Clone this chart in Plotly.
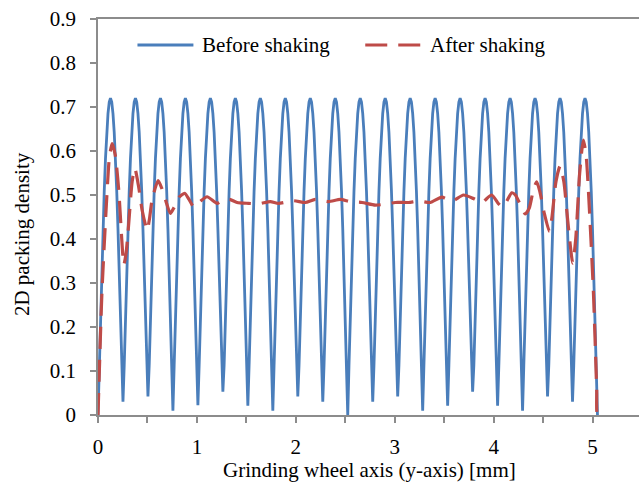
import plotly.graph_objects as go

# ---- Before shaking: packing density sampled every 0.012625 mm (20 samples per grain layer)
blue_step = 0.012625
blue_y = [
    0.000, 0.113, 0.222, 0.327, 0.423, 0.509, 0.583, 0.642, 0.685, 0.711, 0.720, 0.711, 0.685, 0.642, 0.583, 0.509, 0.423, 0.327, 0.222, 0.113,
    0.030, 0.113, 0.222, 0.327, 0.423, 0.509, 0.583, 0.642, 0.685, 0.711, 0.720, 0.711, 0.685, 0.642, 0.583, 0.509, 0.423, 0.327, 0.222, 0.113,
    0.042, 0.113, 0.222, 0.327, 0.423, 0.509, 0.583, 0.642, 0.685, 0.711, 0.720, 0.711, 0.685, 0.642, 0.583, 0.509, 0.423, 0.327, 0.222, 0.113,
    0.010, 0.113, 0.222, 0.327, 0.423, 0.509, 0.583, 0.642, 0.685, 0.711, 0.720, 0.711, 0.685, 0.642, 0.583, 0.509, 0.423, 0.327, 0.222, 0.113,
    0.022, 0.113, 0.222, 0.327, 0.423, 0.509, 0.583, 0.642, 0.685, 0.711, 0.720, 0.711, 0.685, 0.642, 0.583, 0.509, 0.423, 0.327, 0.222, 0.113,
    0.053, 0.113, 0.222, 0.327, 0.423, 0.509, 0.583, 0.642, 0.685, 0.711, 0.720, 0.711, 0.685, 0.642, 0.583, 0.509, 0.423, 0.327, 0.222, 0.113,
    0.021, 0.113, 0.222, 0.327, 0.423, 0.509, 0.583, 0.642, 0.685, 0.711, 0.720, 0.711, 0.685, 0.642, 0.583, 0.509, 0.423, 0.327, 0.222, 0.113,
    0.010, 0.113, 0.222, 0.327, 0.423, 0.509, 0.583, 0.642, 0.685, 0.711, 0.720, 0.711, 0.685, 0.642, 0.583, 0.509, 0.423, 0.327, 0.222, 0.113,
    0.042, 0.113, 0.222, 0.327, 0.423, 0.509, 0.583, 0.642, 0.685, 0.711, 0.720, 0.711, 0.685, 0.642, 0.583, 0.509, 0.423, 0.327, 0.222, 0.113,
    0.030, 0.113, 0.222, 0.327, 0.423, 0.509, 0.583, 0.642, 0.685, 0.711, 0.720, 0.711, 0.685, 0.642, 0.583, 0.509, 0.423, 0.327, 0.222, 0.113,
    0.000, 0.113, 0.222, 0.327, 0.423, 0.509, 0.583, 0.642, 0.685, 0.711, 0.720, 0.711, 0.685, 0.642, 0.583, 0.509, 0.423, 0.327, 0.222, 0.113,
    0.030, 0.113, 0.222, 0.327, 0.423, 0.509, 0.583, 0.642, 0.685, 0.711, 0.720, 0.711, 0.685, 0.642, 0.583, 0.509, 0.423, 0.327, 0.222, 0.113,
    0.042, 0.113, 0.222, 0.327, 0.423, 0.509, 0.583, 0.642, 0.685, 0.711, 0.720, 0.711, 0.685, 0.642, 0.583, 0.509, 0.423, 0.327, 0.222, 0.113,
    0.010, 0.113, 0.222, 0.327, 0.423, 0.509, 0.583, 0.642, 0.685, 0.711, 0.720, 0.711, 0.685, 0.642, 0.583, 0.509, 0.423, 0.327, 0.222, 0.113,
    0.021, 0.113, 0.222, 0.327, 0.423, 0.509, 0.583, 0.642, 0.685, 0.711, 0.720, 0.711, 0.685, 0.642, 0.583, 0.509, 0.423, 0.327, 0.222, 0.113,
    0.053, 0.113, 0.222, 0.327, 0.423, 0.509, 0.583, 0.642, 0.685, 0.711, 0.720, 0.711, 0.685, 0.642, 0.583, 0.509, 0.423, 0.327, 0.222, 0.113,
    0.021, 0.113, 0.222, 0.327, 0.423, 0.509, 0.583, 0.642, 0.685, 0.711, 0.720, 0.711, 0.685, 0.642, 0.583, 0.509, 0.423, 0.327, 0.222, 0.113,
    0.010, 0.113, 0.222, 0.327, 0.423, 0.509, 0.583, 0.642, 0.685, 0.711, 0.720, 0.711, 0.685, 0.642, 0.583, 0.509, 0.423, 0.327, 0.222, 0.113,
    0.042, 0.113, 0.222, 0.327, 0.423, 0.509, 0.583, 0.642, 0.685, 0.711, 0.720, 0.711, 0.685, 0.642, 0.583, 0.509, 0.423, 0.327, 0.222, 0.113,
    0.030, 0.113, 0.222, 0.327, 0.423, 0.509, 0.583, 0.642, 0.685, 0.711, 0.720, 0.711, 0.685, 0.642, 0.583, 0.509, 0.423, 0.327, 0.222, 0.113,
    0.000,
]
blue_x = [round(i * blue_step, 6) for i in range(len(blue_y))]

# ---- After shaking: packing density profile
red_x = [
    0.000, 0.040, 0.090, 0.115, 0.143, 0.175, 0.210, 0.240, 0.261, 0.285,
    0.311, 0.345, 0.372, 0.410, 0.446, 0.497, 0.520, 0.547, 0.608, 0.645,
    0.682, 0.732, 0.770, 0.820, 0.877, 0.920, 0.968, 1.030, 1.103, 1.204,
    1.250, 1.330, 1.406, 1.520, 1.624, 1.742, 1.826, 1.978, 2.096, 2.197,
    2.331, 2.449, 2.550, 2.669, 2.803, 2.900, 3.005, 3.140, 3.240, 3.359,
    3.477, 3.578, 3.695, 3.796, 3.880, 3.980, 4.050, 4.090, 4.130, 4.184,
    4.220, 4.270, 4.320, 4.360, 4.400, 4.436, 4.470, 4.510, 4.564, 4.590,
    4.630, 4.672, 4.710, 4.750, 4.800, 4.830, 4.870, 4.907, 4.935, 4.958,
    5.008, 5.042, 5.050, 5.090,
]
red_y = [
    0.000, 0.280, 0.500, 0.585, 0.617, 0.590, 0.510, 0.400, 0.341, 0.370,
    0.436, 0.530, 0.561, 0.520, 0.466, 0.420, 0.445, 0.489, 0.533, 0.515,
    0.489, 0.458, 0.472, 0.495, 0.504, 0.490, 0.473, 0.485, 0.496, 0.481,
    0.487, 0.490, 0.483, 0.481, 0.480, 0.485, 0.481, 0.487, 0.483, 0.490,
    0.485, 0.490, 0.485, 0.483, 0.477, 0.479, 0.483, 0.483, 0.486, 0.483,
    0.495, 0.486, 0.500, 0.492, 0.483, 0.500, 0.480, 0.473, 0.485, 0.505,
    0.500, 0.478, 0.457, 0.470, 0.510, 0.530, 0.505, 0.460, 0.417, 0.450,
    0.530, 0.566, 0.530, 0.440, 0.345, 0.400, 0.550, 0.625, 0.590, 0.511,
    0.284, 0.057, 0.000, 0.000,
]

BLUE = "#4A7EBB"
RED = "#BE4B48"
AXIS = "#8C8C8C"
FONT = "Liberation Serif"
FS = 21
TXT = dict(family=FONT, size=FS, color="#000")

# plot area in pixels (used for legend / title placement)
L, R, T, B = 97.5, 639.0, 19.0, 415.0


def px(xp, yp):
    return (xp - L) / (R - L), (B - yp) / (B - T)


fig = go.Figure()
fig.add_trace(go.Scatter(
    x=blue_x, y=blue_y, mode="lines", name="Before shaking",
    line=dict(color=BLUE, width=2.8), showlegend=False,
))
fig.add_trace(go.Scatter(
    x=red_x, y=red_y, mode="lines", name="After shaking",
    line=dict(color=RED, width=3.2, dash="22px,11px", shape="spline", smoothing=0.6),
    showlegend=False,
))

# legend drawn inside the plot area
shapes = []
annotations = []
for (x0, x1, col, w, dash, label, tx) in [
    (137, 193, BLUE, 2.8, "solid", "Before shaking", 200),
    (365, 422, RED, 3.2, "22px,11px", "After shaking", 428),
]:
    a0, b0 = px(x0, 45)
    a1, _ = px(x1, 45)
    shapes.append(dict(type="line", xref="paper", yref="paper", x0=a0, x1=a1, y0=b0, y1=b0,
                       line=dict(color=col, width=w, dash=dash)))
    ta, tb = px(tx, 45)
    annotations.append(dict(xref="paper", yref="paper", x=ta, y=tb, text=label, showarrow=False,
                            xanchor="left", yanchor="middle", font=TXT))

# axis titles
ya, yb = px(21.5, 234)
annotations.append(dict(xref="paper", yref="paper", x=ya, y=yb, text="2D packing density", textangle=-90,
                        showarrow=False, xanchor="center", yanchor="middle", font=TXT))
xa, xb = px(369, 470)
annotations.append(dict(xref="paper", yref="paper", x=xa, y=xb, text="Grinding wheel axis (y-axis) [mm]",
                        showarrow=False, xanchor="center", yanchor="middle", font=TXT))

fig.update_layout(
    width=639, height=488,
    margin=dict(l=L, r=639 - R, t=T, b=488 - B, pad=0),
    paper_bgcolor="white", plot_bgcolor="white",
    font=TXT,
    shapes=shapes, annotations=annotations,
    showlegend=False,
)
fig.update_xaxes(
    range=[0, (R - L) / 99.0], dtick=1, tick0=0,
    showgrid=False, zeroline=False,
    showline=True, linecolor=AXIS, linewidth=1.5, mirror=True,
    ticks="outside", ticklen=6, tickcolor=AXIS, tickwidth=1.5,
    minor=dict(dtick=0.5, tick0=0, ticks="outside", ticklen=6, tickcolor=AXIS, tickwidth=1.5, showgrid=False),
    tickfont=TXT, ticklabelstandoff=6,
)
fig.update_yaxes(
    range=[0, 0.9], dtick=0.1, tick0=0,
    showgrid=False, zeroline=False,
    showline=True, linecolor=AXIS, linewidth=1.5,
    ticks="outside", ticklen=6, tickcolor=AXIS, tickwidth=1.5,
    tickfont=TXT, ticklabelstandoff=10,
)

fig.write_html("out.html")
